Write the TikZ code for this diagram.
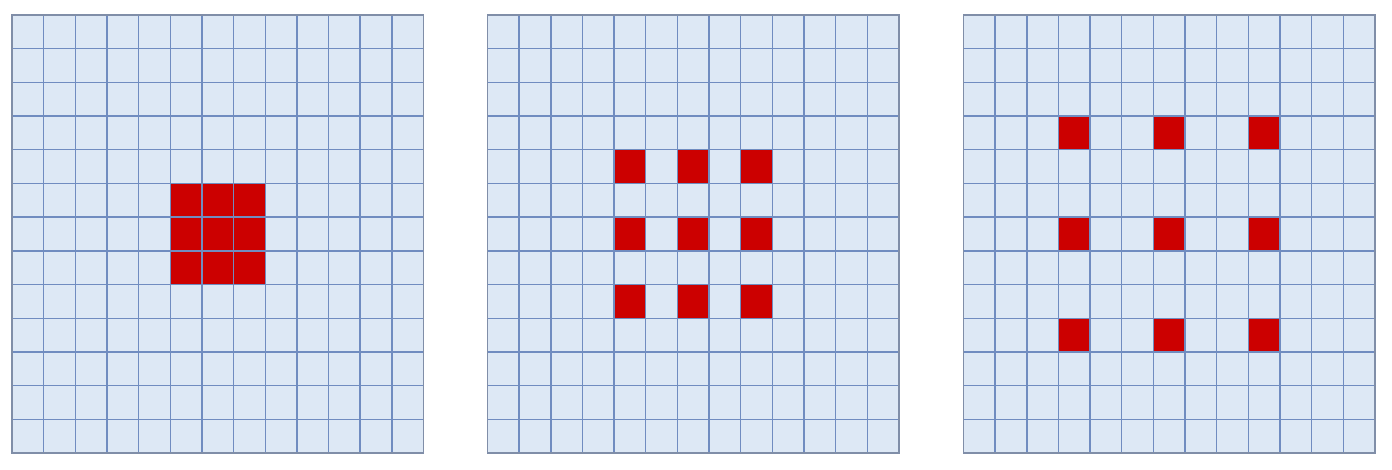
\documentclass[tikz,border=0pt]{standalone}
\definecolor{cellfill}{RGB}{221,232,245}
\definecolor{gridblue}{RGB}{112,140,192}
\definecolor{borderblue}{RGB}{128,142,168}
\definecolor{kernelred}{RGB}{204,0,0}
\tikzset{
  board/.style={fill=cellfill},
  gridline/.style={draw=gridblue, line width=1.4pt},
  gridborder/.style={draw=borderblue, line width=1.5pt},
  kernelcell/.style={fill=kernelred}
}
\begin{document}
\begin{tikzpicture}[x=1pt,y=-1pt]
\useasboundingbox[fill=white] (0,0) rectangle (1392,470);
% three 13x13 inputs, dilation 1, 2 and 3
\foreach \dil/\xo in {1/12,2/487.5,3/963.5}{
  \begin{scope}[shift={(\xo,15)}, x=31.65pt, y=-33.7pt]
    \fill[board] (0,0) rectangle (13,13);
    \foreach \i in {-1,0,1}
      \foreach \j in {-1,0,1}
        \fill[kernelcell] ({6+\i*\dil},{6+\j*\dil}) rectangle +(1,1);
    \foreach \k in {1,...,12}{
      \draw[gridline] (\k,0) -- (\k,13);
      \draw[gridline] (0,\k) -- (13,\k);
    }
    \draw[gridborder] (0,0) rectangle (13,13);
  \end{scope}
}
\end{tikzpicture}
\end{document}
